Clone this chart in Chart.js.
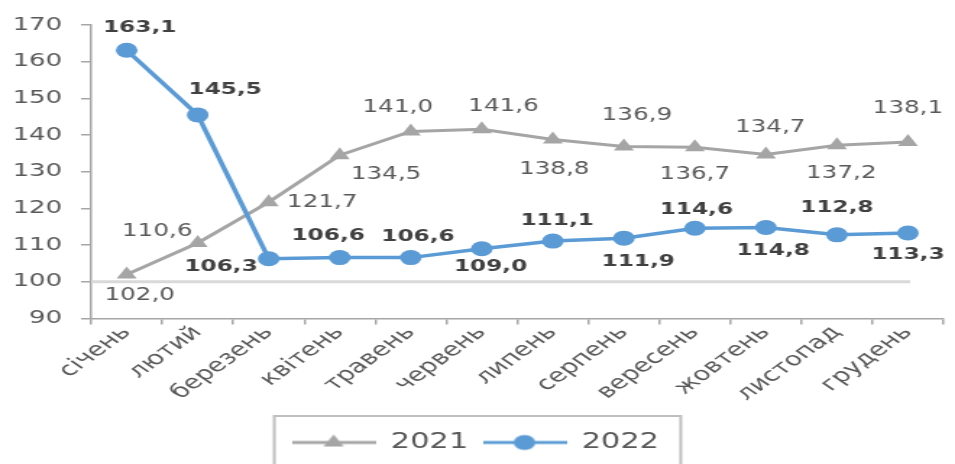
<!DOCTYPE html>
<html>
<head>
<meta charset="utf-8">
<script src="https://cdn.jsdelivr.net/npm/chart.js@4.4.1/dist/chart.umd.min.js"></script>
<style>
  html, body { margin: 0; padding: 0; background: #fff; overflow: hidden; }
  /* the chart is laid out narrow and widened horizontally */
  #wrap { width: 660px; height: 464px; transform: scale(1.447, 1); transform-origin: 0 0; }
</style>
</head>
<body>
<div id="wrap"><canvas id="chart" width="660" height="464"></canvas></div>
<script>
// ---- data ----
const months = ['січень', 'лютий', 'березень', 'квітень', 'травень', 'червень',
                'липень', 'серпень', 'вересень', 'жовтень', 'листопад', 'грудень'];
const values2021 = [102.0, 110.6, 121.7, 134.5, 141.0, 141.6, 138.8, 136.9, 136.7, 134.7, 137.2, 138.1];
const values2022 = [163.1, 145.5, 106.3, 106.6, 106.6, 109.0, 111.1, 111.9, 114.6, 114.8, 112.8, 113.3];
const yTicks = [90, 100, 110, 120, 130, 140, 150, 160, 170];
const baseLevel = 100;
const seriesNames = ['2021', '2022'];

// ---- value label placement (offset from each point, px) ----
const labelOffsets2021 = [[9, 21], [-28, -11], [37, 0], [32, 19], [-9, -24], [15, -23],
                          [1, 30], [9, -31], [0, 27], [3, -27], [3, 28], [0, -33]];
const labelOffsets2022 = [[9, -22], [19, -25], [-33, 8], [-8, -22], [5, -21], [6, 18],
                          [3, -20], [10, 24], [1, -18], [5, 23], [0, -27], [0, 22]];

const GRAY = '#a5a5a5';
const BLUE = '#5b9bd5';
const FONT = 'DejaVu Sans';

const fmt = v => v.toFixed(1).replace('.', ',');

// legend swatch: line with marker in the middle
function legendSwatch(color, style) {
  const c = document.createElement('canvas');
  c.width = 58; c.height = 20;
  const g = c.getContext('2d');
  g.strokeStyle = color; g.lineWidth = 3;
  g.beginPath(); g.moveTo(0, 10); g.lineTo(58, 10); g.stroke();
  g.fillStyle = color;
  g.beginPath();
  if (style === 'triangle') {
    const r = 8;
    g.moveTo(29, 10 - r);
    g.lineTo(29 + r * Math.sin(2 * Math.PI / 3), 10 - r * Math.cos(2 * Math.PI / 3));
    g.lineTo(29 + r * Math.sin(4 * Math.PI / 3), 10 - r * Math.cos(4 * Math.PI / 3));
    g.closePath();
  } else {
    g.arc(29, 10, 7.5, 0, Math.PI * 2);
  }
  g.fill();
  return c;
}
const swatches = [legendSwatch(GRAY, 'triangle'), legendSwatch(BLUE, 'circle')];

// horizontal reference line at the base level
const baseLine = {
  id: 'baseLine',
  beforeDatasetsDraw(chart) {
    const { ctx, chartArea, scales } = chart;
    const y = scales.y.getPixelForValue(baseLevel);
    const x1 = scales.x.getPixelForValue(months.length - 1) + 1.5;
    ctx.save();
    ctx.strokeStyle = '#d9d9d9';
    ctx.lineWidth = 3;
    ctx.beginPath(); ctx.moveTo(chartArea.left, y); ctx.lineTo(x1, y); ctx.stroke();
    ctx.restore();
  }
};

// numeric labels next to every point
const valueLabels = {
  id: 'valueLabels',
  afterDatasetsDraw(chart, args, opts) {
    const ctx = chart.ctx;
    chart.data.datasets.forEach((ds, i) => {
      const meta = chart.getDatasetMeta(i);
      const st = opts.styles[i];
      ctx.save();
      ctx.font = st.font;
      ctx.fillStyle = st.color;
      ctx.textAlign = 'center';
      ctx.textBaseline = 'middle';
      meta.data.forEach((pt, j) => {
        const [dx, dy] = st.offsets[j];
        ctx.fillText(fmt(ds.data[j]), pt.x + dx, pt.y + dy);
      });
      ctx.restore();
    });
  }
};

// frame around the legend
const legendFrame = {
  id: 'legendFrame',
  afterDraw(chart) {
    const lg = chart.legend;
    const hb = lg.legendHitBoxes;
    if (!hb || !hb.length) return;
    const last = hb[hb.length - 1];
    const left = hb[0].left - 12;
    const right = last.left + last.width + 15;
    const top = lg.top - 6;
    const ctx = chart.ctx;
    ctx.save();
    ctx.strokeStyle = '#bfbfbf';
    ctx.lineWidth = 2;
    ctx.strokeRect(left, top, right - left, chart.height - top + 10);
    ctx.restore();
  }
};

new Chart(document.getElementById('chart'), {
  type: 'line',
  data: {
    labels: months,
    datasets: [
      {
        label: seriesNames[0],
        data: values2021,
        borderColor: GRAY,
        backgroundColor: GRAY,
        borderWidth: 3,
        pointStyle: 'triangle',
        pointRadius: 8,
        pointBorderWidth: 0,
        order: 1,
        tension: 0
      },
      {
        label: seriesNames[1],
        data: values2022,
        borderColor: BLUE,
        backgroundColor: BLUE,
        borderWidth: 3.5,
        pointStyle: 'circle',
        pointRadius: 7.5,
        pointBorderWidth: 0,
        order: 0,
        tension: 0
      }
    ]
  },
  options: {
    responsive: false,
    animation: false,
    layout: { padding: { top: 25, right: 3, left: 0, bottom: 1 } },
    scales: {
      x: {
        offset: true,
        grid: { offset: true, drawOnChartArea: false, drawTicks: true, tickLength: 6, color: '#a6a6a6', lineWidth: 1.5 },
        border: { color: '#a6a6a6', width: 1.5 },
        ticks: {
          autoSkip: false,
          minRotation: 46,
          maxRotation: 46,
          padding: -3,
          color: '#595959',
          font: { family: FONT, size: 19 }
        },
        afterFit(scale) { scale.height = 103.5; }
      },
      y: {
        min: yTicks[0],
        max: yTicks[yTicks.length - 1],
        afterBuildTicks(scale) { scale.ticks = yTicks.map(v => ({ value: v })); },
        grid: { drawOnChartArea: false, drawTicks: true, tickLength: 7, color: '#a6a6a6', lineWidth: 1.5 },
        border: { color: '#a6a6a6', width: 1.5 },
        ticks: {
          padding: 13,
          color: '#595959',
          font: { family: FONT, size: 18 }
        },
        afterFit(scale) { scale.width = 63; }
      }
    },
    plugins: {
      tooltip: { enabled: false },
      legend: {
        position: 'bottom',
        labels: {
          usePointStyle: true,
          pointStyleWidth: 58,
          padding: 10,
          color: '#595959',
          font: { family: FONT, size: 21 },
          sort: (a, b) => a.datasetIndex - b.datasetIndex,
          generateLabels(chart) {
            const items = Chart.defaults.plugins.legend.labels.generateLabels(chart);
            items.forEach(it => { it.pointStyle = swatches[it.datasetIndex]; });
            return items;
          }
        }
      },
      valueLabels: {
        styles: [
          { font: `17px "${FONT}"`, color: '#595959', offsets: labelOffsets2021 },
          { font: `bold 16px "${FONT}"`, color: '#404040', offsets: labelOffsets2022 }
        ]
      }
    }
  },
  plugins: [baseLine, valueLabels, legendFrame]
});
</script>
</body>
</html>
